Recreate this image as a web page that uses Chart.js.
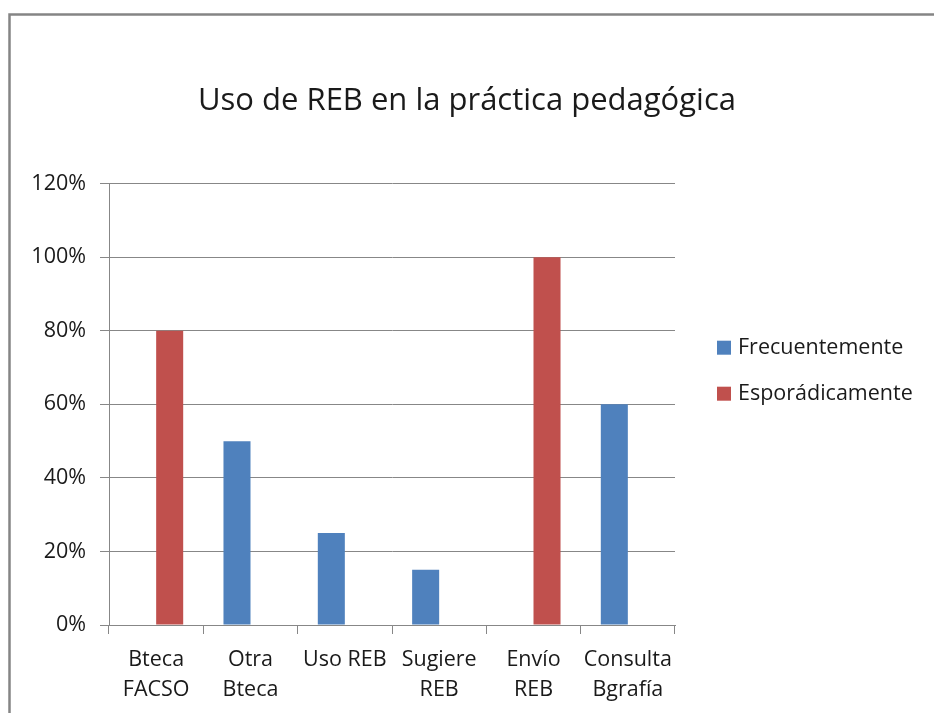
<!DOCTYPE html>
<html><head><meta charset="utf-8">
<script src="https://cdn.jsdelivr.net/npm/chart.js@4"></script>
<style>html,body{margin:0;padding:0;background:#fff}#wrap{width:934px;height:713px;position:relative}</style>
</head><body><div id="wrap"><canvas id="c" width="934" height="713"></canvas></div>
<script>
const titleText = "Uso de REB en la práctica pedagógica";
const categories = [["Bteca","FACSO"],["Otra","Bteca"],["Uso REB"],["Sugiere","REB"],["Envío","REB"],["Consulta","Bgrafía"]];
const seriesNames = ["Frecuentemente","Esporádicamente"];
const frecuentemente = [0,50,25,15,0,60];
const esporadicamente = [80,0,0,0,100,0];
const yTickValues = [0,20,40,60,80,100,120];
const colors = ["#4F81BD","#C0504D"];

const FONT = "'Open Sans', Lato, sans-serif";
const TXT = "#1a1a1a";
const GRID = "#878787";

const framePlugin = {
  id: 'frame',
  beforeDraw(chart) {
    const ctx = chart.ctx;
    ctx.save();
    ctx.fillStyle = '#fff';
    ctx.fillRect(0,0,chart.width,chart.height);
    ctx.strokeStyle = '#858585';
    ctx.lineWidth = 2.5;
    ctx.beginPath();
    ctx.moveTo(9.5, chart.height);
    ctx.lineTo(9.5, 14.5);
    ctx.lineTo(chart.width, 14.5);
    ctx.stroke();
    ctx.restore();
  }
};

const titleCenterPlugin = {
  id: 'titleCenter',
  afterLayout(chart) {
    const t = chart.titleBlock;
    if (t) { t.left = 0; t.right = chart.width; t.width = chart.width; }
  }
};

const legendPlugin = {
  id: 'sideLegend',
  afterDraw(chart) {
    const ctx = chart.ctx;
    const a = chart.chartArea;
    ctx.save();
    ctx.font = "21.5px " + FONT;
    ctx.textBaseline = 'middle';
    ctx.textAlign = 'left';
    chart.data.datasets.forEach((ds, i) => {
      const cy = a.top + 164 + i * 46;
      const bx = a.right + 42;
      ctx.fillStyle = ds.backgroundColor;
      ctx.fillRect(bx, cy - 7, 14, 14);
      ctx.fillStyle = TXT;
      ctx.fillText(ds.label, bx + 21, cy);
    });
    ctx.restore();
  }
};

new Chart(document.getElementById('c'), {
  type: 'bar',
  data: {
    labels: categories,
    datasets: [
      { label: seriesNames[0], data: frecuentemente, backgroundColor: colors[0], borderWidth: 0 },
      { label: seriesNames[1], data: esporadicamente, backgroundColor: colors[1], borderWidth: 0 }
    ]
  },
  options: {
    responsive: false,
    animation: false,
    categoryPercentage: 0.573,
    barPercentage: 1,
    layout: { padding: { left: 0, right: 259, top: 0, bottom: 0 } },
    plugins: {
      legend: { display: false },
      tooltip: { enabled: false },
      title: {
        display: true,
        text: titleText,
        color: TXT,
        font: { family: FONT, size: 31, weight: 'normal', lineHeight: 1.2 },
        padding: { top: 83, bottom: 63.5 }
      }
    },
    scales: {
      x: {
        offset: true,
        grid: { display: true, drawOnChartArea: false, drawTicks: true, tickLength: 9, color: GRID, offset: true },
        border: { color: GRID, width: 1 },
        ticks: { color: TXT, font: { family: FONT, size: 21.5, lineHeight: 1.4 }, padding: 11, maxRotation: 0, autoSkip: false },
        afterFit(s) { s.height = 88; }
      },
      y: {
        min: 0, max: 120,
        afterBuildTicks(s) { s.ticks = yTickValues.map(v => ({ value: v })); },
        grid: { color: GRID, tickLength: 9, drawTicks: true },
        border: { color: GRID, width: 1 },
        ticks: { color: TXT, font: { family: FONT, size: 21.5 }, padding: 14, callback: v => v + '%' },
        afterFit(s) { s.width = 109; }
      }
    }
  },
  plugins: [framePlugin, titleCenterPlugin, legendPlugin]
});
</script></body></html>
